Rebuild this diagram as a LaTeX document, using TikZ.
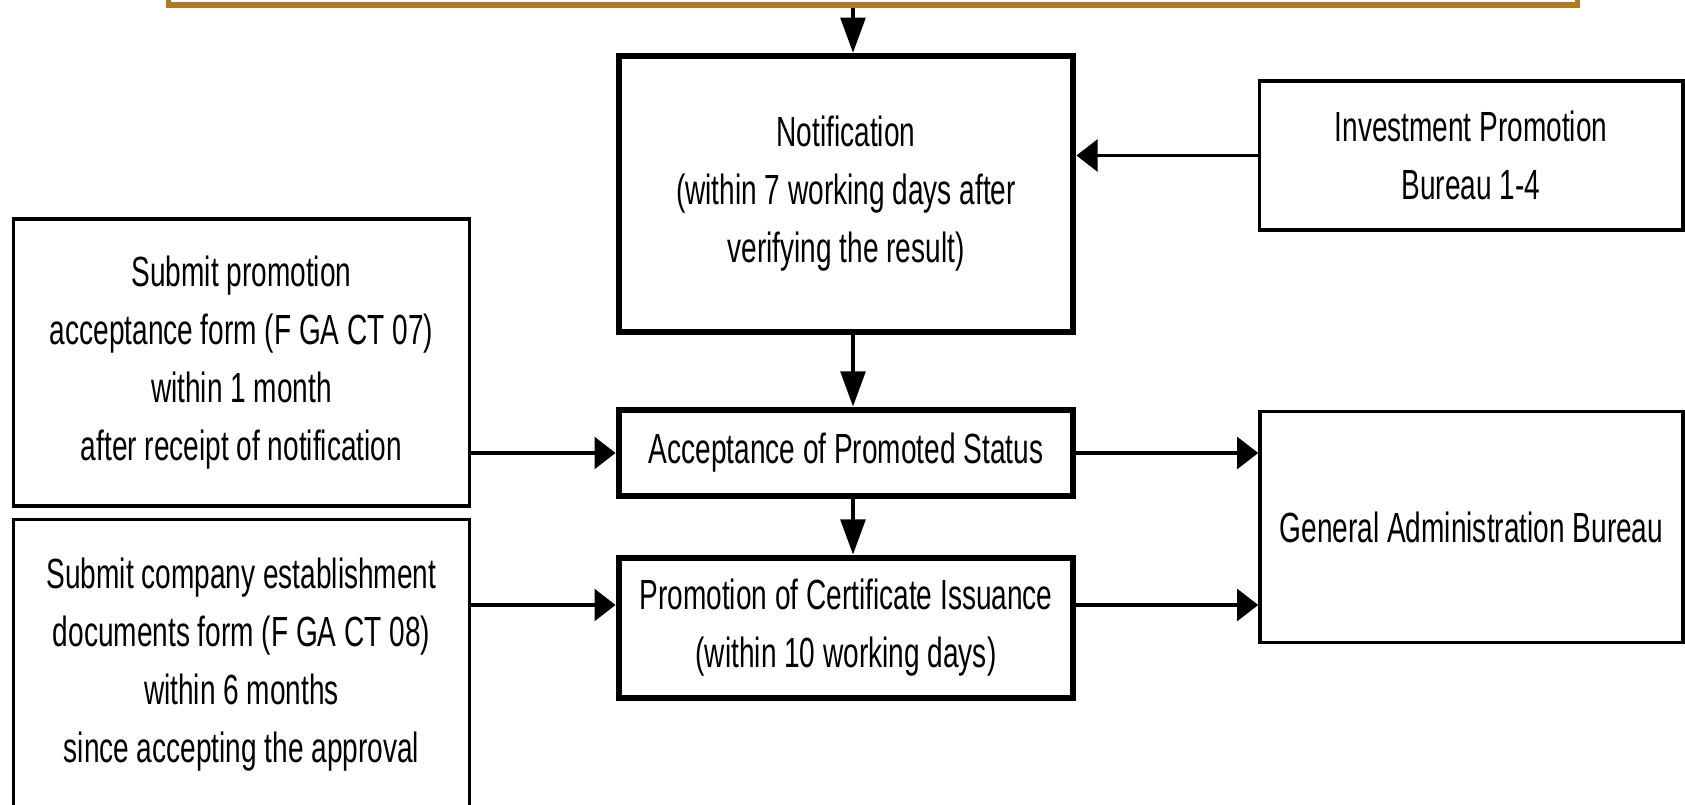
\documentclass[tikz,border=0pt]{standalone}
\usepackage{fontspec}
\setmainfont[FakeStretch=0.665]{Liberation Sans}
\usetikzlibrary{arrows.meta}
\definecolor{orangeline}{RGB}{178,121,34}

\begin{document}
\begin{tikzpicture}[font=\fontsize{12}{16.5}\selectfont,
  box/.style={draw,line width=1pt,align=center,inner sep=0pt},
  mainbox/.style={box,line width=1.8pt},
  varr/.style={-{Triangle[length=10pt,width=7pt]},line width=1.1pt},
  harr/.style={-{Triangle[length=6pt,width=9pt]},line width=1.1pt}]
  \useasboundingbox (0,0) rectangle (16.85,8.05);
  \clip (0,0) rectangle (16.85,8.05);
  % upper step, only its lower edge shows
  \node[draw=orangeline,line width=1.6pt,minimum width=14.09cm,minimum height=1cm] (prev) at (8.73,8.5) {};
  % middle column
  \node[mainbox,minimum width=4.545cm,minimum height=2.76cm] (notif) at (8.46,6.11)
    {Notification\\(within 7 working days after\\verifying the result)};
  \node[mainbox,minimum width=4.545cm,minimum height=0.865cm] (accept) at (8.46,3.52)
    {Acceptance of Promoted Status};
  \node[mainbox,minimum width=4.545cm,minimum height=1.405cm] (promo) at (8.46,1.77)
    {Promotion of Certificate Issuance\\(within 10 working days)};
  % left column
  \node[box,minimum width=4.56cm,minimum height=2.87cm] (sub1) at (2.415,4.425)
    {Submit promotion\\acceptance form (F GA CT 07)\\within 1 month\\after receipt of notification};
  \node[box,minimum width=4.56cm,minimum height=2.9cm] (sub2) at (2.415,1.405)
    {Submit company establishment\\documents form (F GA CT 08)\\within 6 months\\since accepting the approval};
  % right column
  \node[box,minimum width=4.235cm,minimum height=1.49cm] (invest) at (14.71,6.495)
    {Investment Promotion\\Bureau 1-4};
  \node[box,minimum width=4.23cm,minimum height=2.31cm] (gab) at (14.715,2.78)
    {General Administration Bureau};
  \coordinate (promoin) at ([yshift=0.23cm]promo.west);
  \coordinate (promoout) at ([yshift=0.23cm]promo.east);
  % connectors
  \draw[varr] ([xshift=0.07cm]notif.north |- prev.south) -- ([xshift=0.07cm]notif.north);
  \draw[varr] ([xshift=0.07cm]notif.south) -- ([xshift=0.07cm]accept.north);
  \draw[varr] ([xshift=0.07cm]accept.south) -- ([xshift=0.07cm]promo.north);
  \draw[harr] (invest.west) -- (invest.west -| notif.east);
  \draw[harr] (sub1.east |- accept.west) -- (accept.west);
  \draw[harr] (accept.east) -- (accept.east -| gab.west);
  \draw[harr] (sub2.east |- promoin) -- (promoin);
  \draw[harr] (promoout) -- (promoout -| gab.west);
\end{tikzpicture}
\end{document}
